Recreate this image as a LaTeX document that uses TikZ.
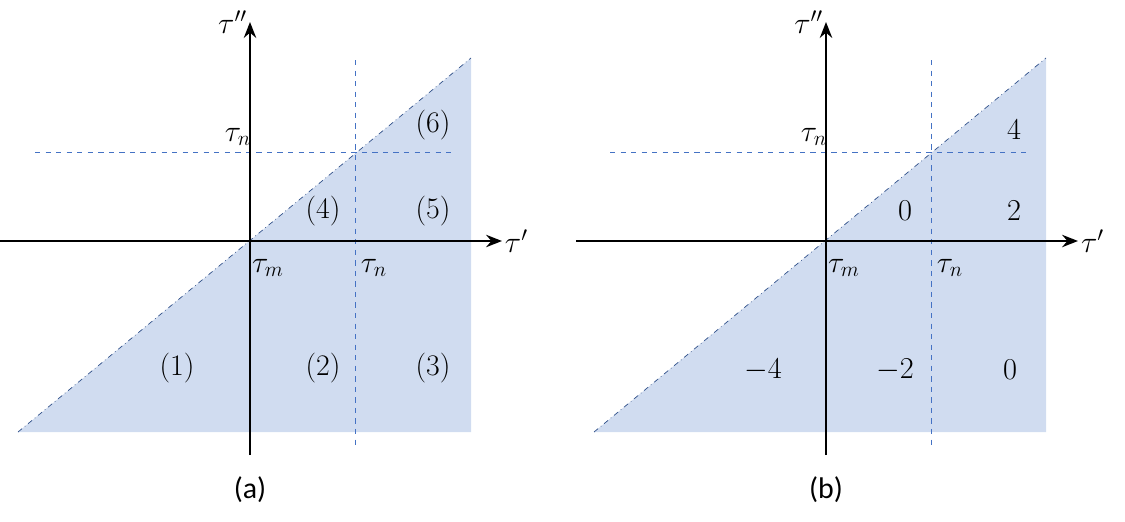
\documentclass[tikz,border=0pt]{standalone}
\usepackage{amsmath,amssymb}
\usepackage{fontspec}
\setsansfont{Carlito}
\usetikzlibrary{arrows.meta}
\definecolor{shade}{RGB}{208,220,240}
\definecolor{guide}{RGB}{68,114,196}
\begin{document}
\begin{tikzpicture}%
                [x=0.02cm, y=-0.02cm,
                axis/.style={color=black,line width=1.4pt,-{Stealth[length=9pt,width=7pt]}},
                region/.style={fill=shade},
                diag/.style={color=guide!70!black,dash dot,thin},
                guideline/.style={color=guide,dashed,thin},
                lbl/.style={font=\fontsize{17}{20}\selectfont,inner sep=1pt},
                caption/.style={font=\sffamily\fontsize{17}{20}\selectfont}]
            \useasboundingbox (0,0) rectangle (1125,521);
            %% Panel (a)
            \coordinate (aO) at (250,241);
            \coordinate (aL) at (18,432);
            \coordinate (aT) at (471,58);
            \coordinate (aB) at (471,432);
            \fill[region] (aL) -- (aT) -- (aB) -- cycle;
            \draw[diag] (aL) -- (aT);
            \draw[guideline] (355,60) -- (355,445);
            \draw[guideline] (35,152) -- (455,152);
            \draw[axis] (0,241) -- (502,241) node[lbl,anchor=west]{$\tau'$};
            \draw[axis] (250,455) -- (250,22) node[lbl,anchor=east]{$\tau''$};
            \node[lbl] (an1) at (238,137) {$\tau_n$};
            \node[lbl] (am) at (268,268) {$\tau_m$};
            \node[lbl] (an2) at (374,268) {$\tau_n$};
            \node[lbl] (r1) at (177,368) {(1)};
            \node[lbl] (r2) at (323,368) {(2)};
            \node[lbl] (r3) at (433,368) {(3)};
            \node[lbl] (r4) at (323,211) {(4)};
            \node[lbl] (r5) at (433,211) {(5)};
            \node[lbl] (r6) at (433,125) {(6)};
            \node[caption] (capa) at (250,490) {(a)};
            %% Panel (b)
            \coordinate (bO) at (826,241);
            \coordinate (bL) at (594,432);
            \coordinate (bT) at (1046,58);
            \coordinate (bB) at (1046,432);
            \fill[region] (bL) -- (bT) -- (bB) -- cycle;
            \draw[diag] (bL) -- (bT);
            \draw[guideline] (931,60) -- (931,445);
            \draw[guideline] (610,152) -- (1030,152);
            \draw[axis] (576,241) -- (1078,241) node[lbl,anchor=west]{$\tau'$};
            \draw[axis] (826,455) -- (826,22) node[lbl,anchor=east]{$\tau''$};
            \node[lbl] (bn1) at (814,137) {$\tau_n$};
            \node[lbl] (bm) at (844,268) {$\tau_m$};
            \node[lbl] (bn2) at (950,268) {$\tau_n$};
            \node[lbl] (v1) at (763,370) {$-4$};
            \node[lbl] (v2) at (895,370) {$-2$};
            \node[lbl] (v3) at (1010,370) {$0$};
            \node[lbl] (v4) at (905,211) {$0$};
            \node[lbl] (v5) at (1014,211) {$2$};
            \node[lbl] (v6) at (1014,130) {$4$};
            \node[caption] (capb) at (826,490) {(b)};
\end{tikzpicture}
\end{document}
